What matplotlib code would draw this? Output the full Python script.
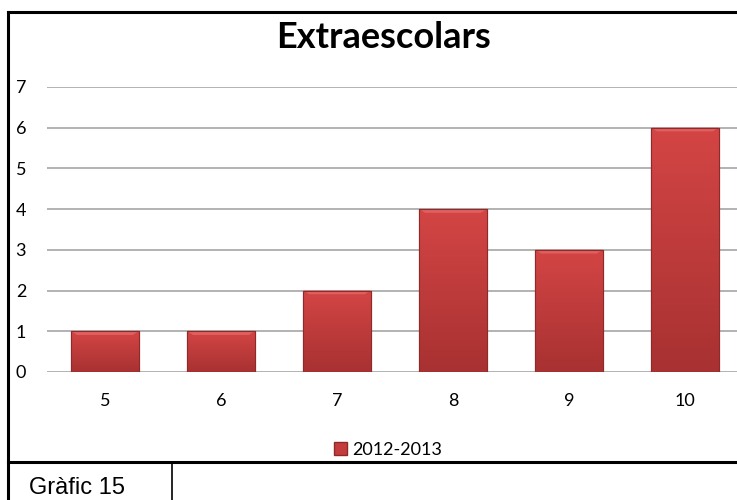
import matplotlib
matplotlib.use("Agg")
import matplotlib.pyplot as plt
from matplotlib.lines import Line2D
from matplotlib.patches import Rectangle
from matplotlib.colors import LinearSegmentedColormap
import numpy as np

categories = ["5", "6", "7", "8", "9", "10"]
values = [1, 1, 2, 4, 3, 6]
series_name = "2012-2013"
title = "Extraescolars"
yticks = [0, 1, 2, 3, 4, 5, 6, 7]
caption = "Gràfic 15"

W, H = 737, 500
fig = plt.figure(figsize=(W / 100, H / 100), dpi=100)

def fx(px):
    return px / W

def fy(py):
    return 1 - py / H

# axes: x from 47 to 743 px, y from 87 (7) to 372 (0)
ax = fig.add_axes([fx(47), fy(372), fx(743) - fx(47), fy(87) - fy(372)])
ax.yaxis.grid(True, color="#A6A6A6", linewidth=1.2)
ax.set_axisbelow(True)
for s in ax.spines.values():
    s.set_visible(False)

x = np.arange(len(categories))
bars = ax.bar(x, values, width=0.58, color="#C43C3C", edgecolor="#8E2A2A",
              linewidth=0.8, zorder=3)
ax.set_xticks(x)
ax.set_xticklabels(categories)
ax.set_yticks(yticks)
ax.tick_params(axis="both", length=0, labelsize=13, labelcolor="#000000")
ax.tick_params(axis="y", pad=15)
ax.tick_params(axis="x", pad=15)
for lbl in ax.get_yticklabels() + ax.get_xticklabels():
    lbl.set_fontfamily("Lato")

# gradient overlay
grad = np.linspace(0, 1, 256).reshape(-1, 1)
cmap = LinearSegmentedColormap.from_list("rg", ["#A83131", "#D44545"])
for b in bars:
    x0, y0 = b.get_x(), b.get_y()
    w, h = b.get_width(), b.get_height()
    im = ax.imshow(grad, extent=[x0, x0 + w, y0, y0 + h], origin="lower",
                   cmap=cmap, aspect="auto", zorder=3.5)
    im.set_clip_path(b)
    ax.fill([x0, x0 + w, x0 + w - 0.05, x0 + 0.05],
            [y0 + h, y0 + h, y0 + h - 0.09, y0 + h - 0.09],
            color="#E06060", zorder=4, linewidth=0)
    ax.plot([x0, x0 + w, x0 + w, x0, x0], [y0, y0, y0 + h, y0 + h, y0],
            color="#8E2A2A", linewidth=0.8, zorder=5)
ax.set_xlim(-0.5, len(categories) - 0.5)
ax.set_ylim(0, 7)

fig.text(fx(384), fy(37), title, ha="center", va="center", fontsize=26,
         fontweight="bold", family="Lato")

# legend
handle = Rectangle((0, 0), 1, 1, facecolor="#C43C3C", edgecolor="#8E2A2A")
fig.legend([handle], [series_name], loc="center", bbox_to_anchor=(fx(388), fy(450)),
           frameon=False, prop={"family": "Lato", "size": 13},
           handlelength=0.7, handleheight=0.7, handletextpad=0.3)

# borders
lw = 2.2
fig.add_artist(Line2D([fx(8), fx(8)], [fy(12), fy(500)], color="black", lw=lw))
fig.add_artist(Line2D([fx(8), fx(737)], [fy(12), fy(12)], color="black", lw=lw))
fig.add_artist(Line2D([fx(8), fx(737)], [fy(462), fy(462)], color="black", lw=lw))
fig.add_artist(Line2D([fx(172), fx(172)], [fy(462), fy(500)], color="black", lw=1.2))

fig.text(fx(29), fy(488), caption, ha="left", va="center", fontsize=17,
         family="Liberation Sans")

fig.savefig("out.png", dpi=100)
